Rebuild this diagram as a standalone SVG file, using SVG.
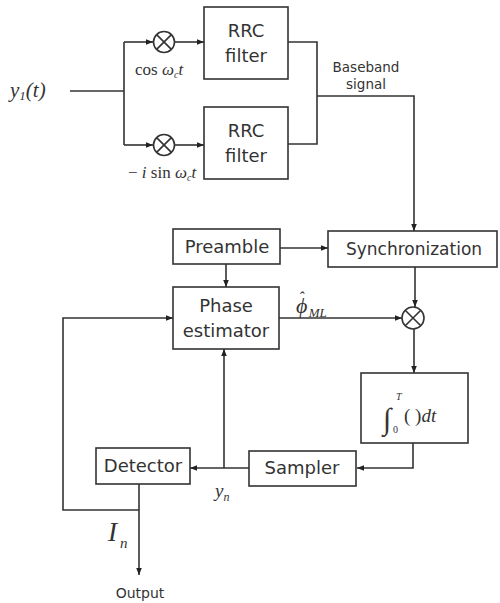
<svg xmlns="http://www.w3.org/2000/svg" width="500" height="603" viewBox="0 0 500 603">
<defs>
<marker id="ah" viewBox="0 0 10 10" refX="10" refY="5" markerWidth="7" markerHeight="7" orient="auto" markerUnits="userSpaceOnUse">
<path d="M0,1 L10,5 L0,9 z" fill="#222"/>
</marker>
</defs>
<style>
.box{fill:#fff;stroke:#333;stroke-width:1.6}
.ln{fill:none;stroke:#333;stroke-width:1.6}
.arr{fill:none;stroke:#333;stroke-width:1.6;marker-end:url(#ah)}
.lbl{font-family:"DejaVu Sans","Noto Sans",sans-serif;fill:#333;text-anchor:middle}
.m{font-family:"Liberation Serif","Times New Roman",serif;fill:#333;font-style:italic}
.mu{font-family:"Liberation Serif","Times New Roman",serif;fill:#333}
</style>
<rect width="500" height="603" fill="#fff"/>
<g id="connectors">
<path class="ln" d="M70,91 H124"/>
<path class="ln" d="M124,42 V145"/>
<path class="arr" d="M124,42 H153"/>
<path class="arr" d="M124,145 H153"/>
<path class="arr" d="M175,42 H204"/>
<path class="arr" d="M175,145 H204"/>
<path class="ln" d="M288,42 H317 V144 H288"/>
<path class="arr" d="M317,96 H414 V231"/>
<path class="arr" d="M280,248 H328"/>
<path class="arr" d="M226,264 V287"/>
<path class="arr" d="M415,267 V307"/>
<path class="arr" d="M279,318 H402"/>
<path class="arr" d="M414,329 V373"/>
<path class="arr" d="M413,443 V468 H357"/>
<path class="arr" d="M249,468 H190"/>
<path class="arr" d="M224,468 V349"/>
<path class="arr" d="M139,484 V575"/>
<path class="arr" d="M139,510 H63 V318 H173"/>
</g>
<g id="input">
<text class="m" x="10" y="97" font-size="21">y<tspan font-size="13" dy="3">1</tspan><tspan dy="-3">(t)</tspan></text>
</g>
<g id="mixer1">
<circle class="ln" cx="164" cy="42" r="10.5"/>
<path class="ln" d="M156.6,34.6 L171.4,49.4 M171.4,34.6 L156.6,49.4"/>
<text class="mu" x="135" y="75" font-size="17">cos <tspan class="m">ω<tspan font-size="10" dy="3">c</tspan><tspan dy="-3">t</tspan></tspan></text>
</g>
<g id="mixer2">
<circle class="ln" cx="164" cy="145" r="10.5"/>
<path class="ln" d="M156.6,137.6 L171.4,152.4 M171.4,137.6 L156.6,152.4"/>
<text class="mu" x="128" y="178" font-size="17">− <tspan class="m">i</tspan> sin <tspan class="m">ω<tspan font-size="10" dy="3">c</tspan><tspan dy="-3">t</tspan></tspan></text>
</g>
<g id="rrc1">
<rect class="box" x="204" y="7" width="84" height="72"/>
<text class="lbl" x="246" y="37" font-size="18">RRC</text>
<text class="lbl" x="246" y="62" font-size="18">filter</text>
</g>
<g id="rrc2">
<rect class="box" x="204" y="107" width="84" height="72"/>
<text class="lbl" x="246" y="137" font-size="18">RRC</text>
<text class="lbl" x="246" y="162" font-size="18">filter</text>
</g>
<g id="baseband">
<text class="lbl" x="366" y="72" font-size="13.5">Baseband</text>
<text class="lbl" x="366" y="89" font-size="13.5">signal</text>
</g>
<g id="preamble">
<rect class="box" x="173" y="229" width="107" height="35"/>
<text class="lbl" x="227" y="253" font-size="18">Preamble</text>
</g>
<g id="sync">
<rect class="box" x="328" y="231" width="169" height="36"/>
<text class="lbl" x="414" y="255" font-size="17">Synchronization</text>
</g>
<g id="phase">
<rect class="box" x="173" y="287" width="106" height="62"/>
<text class="lbl" x="226" y="312" font-size="18">Phase</text>
<text class="lbl" x="226" y="337" font-size="18">estimator</text>
</g>
<g id="phi">
<text class="m" x="296" y="313" font-size="22">ϕ<tspan class="mu" font-size="16" dx="-9" dy="-10">ˆ</tspan><tspan font-size="13" dx="5" dy="14">ML</tspan></text>
</g>
<g id="mixer3">
<circle class="ln" cx="413" cy="318" r="11"/>
<path class="ln" d="M405.2,310.2 L420.8,325.8 M420.8,310.2 L405.2,325.8"/>
</g>
<g id="integrator">
<rect class="box" x="361" y="373" width="107" height="70"/>
<text class="mu" x="383" y="429" font-size="30">∫</text>
<text class="m" x="396" y="400" font-size="10">T</text>
<text class="mu" x="393" y="433" font-size="10">0</text>
<text class="mu" x="404" y="422" font-size="19">( )<tspan class="m">dt</tspan></text>
</g>
<g id="sampler">
<rect class="box" x="249" y="451" width="107" height="35"/>
<text class="lbl" x="302" y="474" font-size="18">Sampler</text>
</g>
<g id="detector">
<rect class="box" x="96" y="448" width="94" height="36"/>
<text class="lbl" x="143" y="472" font-size="18">Detector</text>
</g>
<g id="yn">
<text class="m" x="215" y="497" font-size="19">y<tspan font-size="12" dy="4">n</tspan></text>
</g>
<g id="In">
<text class="m" x="108" y="541" font-size="27">I<tspan font-size="15" dy="7" dx="3">n</tspan></text>
</g>
<g id="output">
<text class="lbl" x="140" y="598" font-size="14">Output</text>
</g>
</svg>
